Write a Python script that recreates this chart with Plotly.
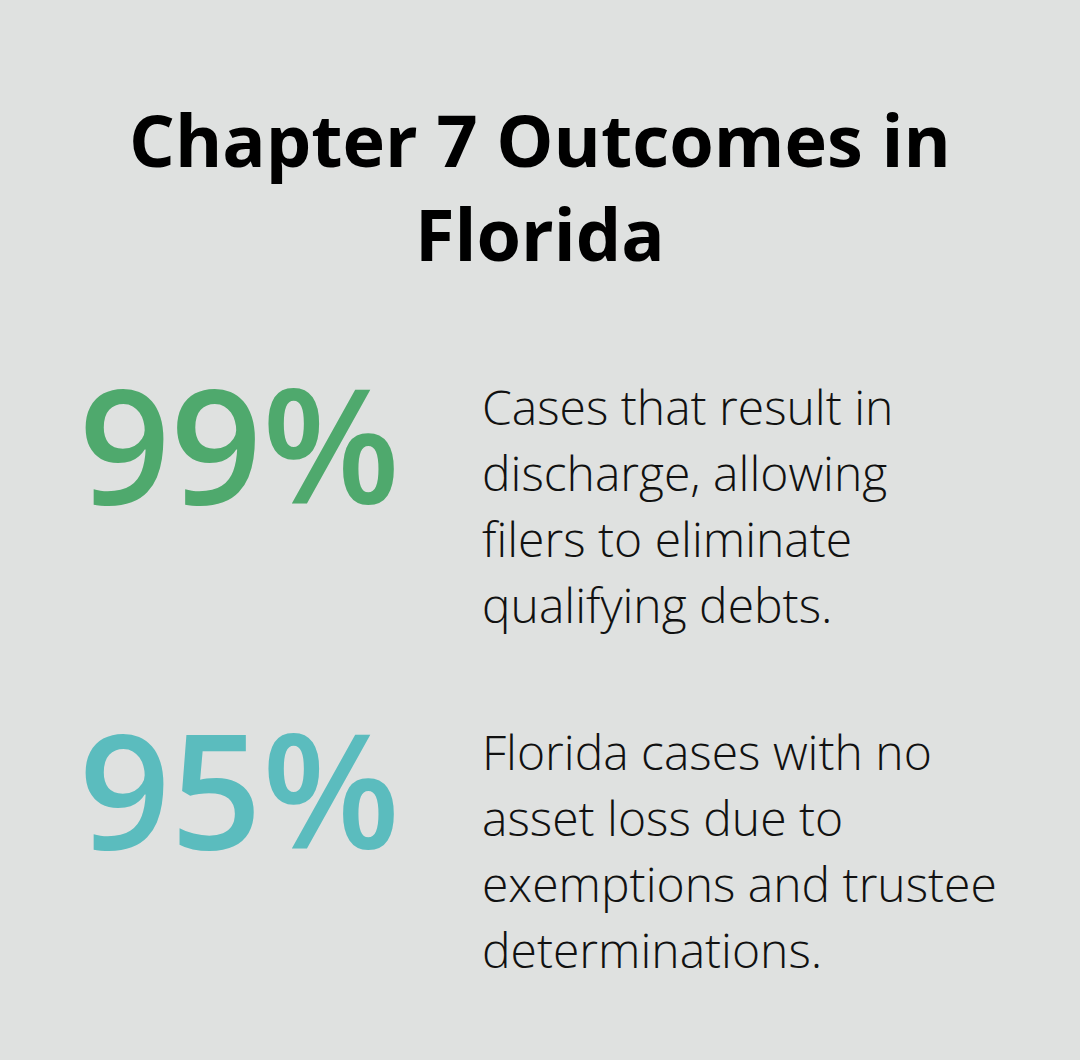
import plotly.graph_objects as go

# Content of the infographic
title_text = "Chapter 7 Outcomes in<br>Florida"
stat_values = ["99%", "95%"]
stat_colors = ["#4FA96D", "#5BBCBE"]
stat_lines = [
    ["Cases that result in", "discharge, allowing", "filers to eliminate", "qualifying debts."],
    ["Florida cases with no", "asset loss due to", "exemptions and trustee", "determinations."],
]

# Canvas size
W, H = 1080, 1060
bg_color = "#DFE1E0"
font_family = "Open Sans"


def py(px):
    """Convert pixel y (from top) to paper coordinates"""
    return 1 - px / H


fig = go.Figure()
annotations = []

# Title
annotations.append(dict(
    text=title_text, x=0.5, y=py(186), xref="paper", yref="paper",
    xanchor="center", yanchor="middle", showarrow=False, align="center",
    font=dict(family=font_family, size=72, color="#000000", weight=700),
))

# Stats blocks
stat_baselines = [505, 850]
desc_first_baseline = [424, 769]
line_gap = 66
for i, value in enumerate(stat_values):
    annotations.append(dict(
        text=value, x=77 / W, y=py(stat_baselines[i] - 63), xref="paper", yref="paper",
        xanchor="left", yanchor="middle", showarrow=False,
        font=dict(family=font_family, size=160, color=stat_colors[i], weight=600),
    ))
    for j, line in enumerate(stat_lines[i]):
        base = desc_first_baseline[i] + j * line_gap
        annotations.append(dict(
            text=line, x=480 / W, y=py(base - 18), xref="paper", yref="paper",
            xanchor="left", yanchor="middle", showarrow=False,
            font=dict(family=font_family, size=48, color="#111111", weight=300),
        ))

fig.update_layout(
    width=W,
    height=H,
    margin=dict(l=0, r=0, t=0, b=0),
    paper_bgcolor=bg_color,
    plot_bgcolor=bg_color,
    xaxis=dict(visible=False),
    yaxis=dict(visible=False),
    annotations=annotations,
    showlegend=False,
)

# Remove the default page margin so the figure fills the window
fig.write_html("out.html", config=dict(displayModeBar=False),
               post_script="document.body.style.margin='0';")
